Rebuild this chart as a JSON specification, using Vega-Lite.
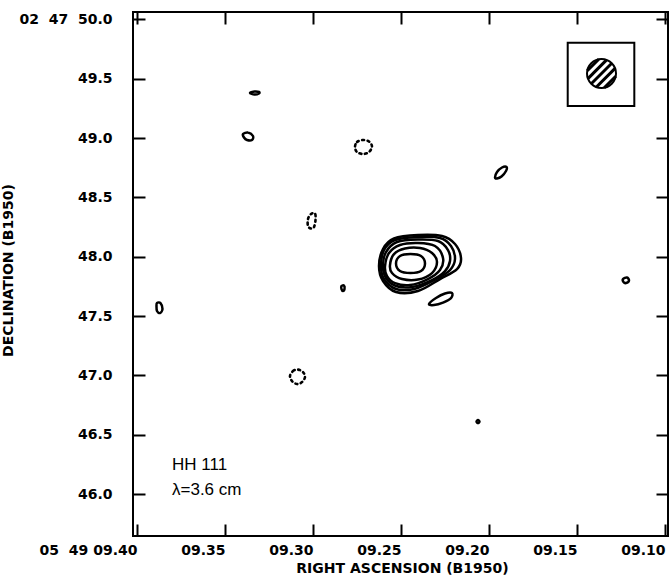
{
  "$schema": "https://vega.github.io/schema/vega-lite/v6.json",
  "width": 535,
  "height": 524,
  "autosize": {"type": "none"},
  "padding": {"left": 133, "top": 12, "right": 2, "bottom": 45},
  "background": "white",
  "config": {
    "view": {"stroke": "black", "strokeWidth": 2},
    "axis": {"tickColor": "black", "domainColor": "black", "labelColor": "black", "titleColor": "black", "grid": false, "domain": false}
  },
  "datasets": {
    "pos": [
      {"c":"m1","i":0,"ra":9.25284,"dec":47.94267},{"c":"m1","i":1,"ra":9.25057,"dec":48.0059},{"c":"m1","i":2,"ra":9.2446,"dec":48.02277},{"c":"m1","i":3,"ra":9.23864,"dec":48.0059},{"c":"m1","i":4,"ra":9.23636,"dec":47.94267},{"c":"m1","i":5,"ra":9.23864,"dec":47.87943},{"c":"m1","i":6,"ra":9.2446,"dec":47.86256},{"c":"m1","i":7,"ra":9.25057,"dec":47.87943},
      {"c":"m2","i":0,"ra":9.25625,"dec":47.93002},{"c":"m2","i":1,"ra":9.25398,"dec":48.02277},{"c":"m2","i":2,"ra":9.24773,"dec":48.06914},{"c":"m2","i":3,"ra":9.2392,"dec":48.07336},{"c":"m2","i":4,"ra":9.23239,"dec":48.0312},{"c":"m2","i":5,"ra":9.22955,"dec":47.95531},{"c":"m2","i":6,"ra":9.23239,"dec":47.86256},{"c":"m2","i":7,"ra":9.24034,"dec":47.80776},{"c":"m2","i":8,"ra":9.24943,"dec":47.81197},{"c":"m2","i":9,"ra":9.25511,"dec":47.86256},
      {"c":"m3","i":0,"ra":9.25909,"dec":47.92159},{"c":"m3","i":1,"ra":9.25682,"dec":48.0312},{"c":"m3","i":2,"ra":9.25057,"dec":48.09865},{"c":"m3","i":3,"ra":9.24034,"dec":48.11552},{"c":"m3","i":4,"ra":9.23068,"dec":48.09022},{"c":"m3","i":5,"ra":9.22614,"dec":47.98904},{"c":"m3","i":6,"ra":9.22784,"dec":47.88786},{"c":"m3","i":7,"ra":9.23466,"dec":47.81197},{"c":"m3","i":8,"ra":9.24489,"dec":47.76138},{"c":"m3","i":9,"ra":9.25341,"dec":47.77825},{"c":"m3","i":10,"ra":9.25795,"dec":47.83727},
      {"c":"m4","i":0,"ra":9.26023,"dec":47.92159},{"c":"m4","i":1,"ra":9.25852,"dec":48.03963},{"c":"m4","i":2,"ra":9.25227,"dec":48.12395},{"c":"m4","i":3,"ra":9.24034,"dec":48.14503},{"c":"m4","i":4,"ra":9.22898,"dec":48.13238},{"c":"m4","i":5,"ra":9.2233,"dec":48.05649},{"c":"m4","i":6,"ra":9.22216,"dec":47.96374},{"c":"m4","i":7,"ra":9.225,"dec":47.87943},{"c":"m4","i":8,"ra":9.23239,"dec":47.80354},{"c":"m4","i":9,"ra":9.24375,"dec":47.74452},{"c":"m4","i":10,"ra":9.25284,"dec":47.75295},{"c":"m4","i":11,"ra":9.25852,"dec":47.82041},
      {"c":"m5","i":0,"ra":9.26136,"dec":47.92159},{"c":"m5","i":1,"ra":9.25966,"dec":48.05649},{"c":"m5","i":2,"ra":9.25341,"dec":48.14081},{"c":"m5","i":3,"ra":9.24034,"dec":48.16611},{"c":"m5","i":4,"ra":9.22784,"dec":48.15767},{"c":"m5","i":5,"ra":9.22159,"dec":48.09022},{"c":"m5","i":6,"ra":9.21932,"dec":47.98061},{"c":"m5","i":7,"ra":9.22216,"dec":47.88786},{"c":"m5","i":8,"ra":9.23011,"dec":47.81197},{"c":"m5","i":9,"ra":9.24261,"dec":47.72766},{"c":"m5","i":10,"ra":9.25284,"dec":47.72766},{"c":"m5","i":11,"ra":9.25966,"dec":47.81197},
      {"c":"m6","i":0,"ra":9.2625,"dec":47.92159},{"c":"m6","i":1,"ra":9.26023,"dec":48.06492},{"c":"m6","i":2,"ra":9.25398,"dec":48.15346},{"c":"m6","i":3,"ra":9.24034,"dec":48.18297},{"c":"m6","i":4,"ra":9.2267,"dec":48.17454},{"c":"m6","i":5,"ra":9.21932,"dec":48.10708},{"c":"m6","i":6,"ra":9.21591,"dec":47.98904},{"c":"m6","i":7,"ra":9.21818,"dec":47.89629},{"c":"m6","i":8,"ra":9.22784,"dec":47.81197},{"c":"m6","i":9,"ra":9.24034,"dec":47.71079},{"c":"m6","i":10,"ra":9.25284,"dec":47.70236},{"c":"m6","i":11,"ra":9.26023,"dec":47.79511},
      {"c":"s1","i":0,"ra":9.23409,"dec":47.60118},{"c":"s1","i":1,"ra":9.23011,"dec":47.65177},{"c":"s1","i":2,"ra":9.225,"dec":47.68971},{"c":"s1","i":3,"ra":9.22102,"dec":47.69393},{"c":"s1","i":4,"ra":9.22159,"dec":47.65177},{"c":"s1","i":5,"ra":9.22614,"dec":47.61383},{"c":"s1","i":6,"ra":9.23125,"dec":47.59275},
      {"c":"s2","i":0,"ra":9.19659,"dec":48.66779},{"c":"s2","i":1,"ra":9.19545,"dec":48.71417},{"c":"s2","i":2,"ra":9.19261,"dec":48.75211},{"c":"s2","i":3,"ra":9.19006,"dec":48.75632},{"c":"s2","i":4,"ra":9.19034,"dec":48.7226},{"c":"s2","i":5,"ra":9.1929,"dec":48.67622},{"c":"s2","i":6,"ra":9.19545,"dec":48.65936},
      {"c":"s3","i":0,"ra":9.12386,"dec":47.81197},{"c":"s3","i":1,"ra":9.12159,"dec":47.82462},{"c":"s3","i":2,"ra":9.12045,"dec":47.79933},{"c":"s3","i":3,"ra":9.12216,"dec":47.77825},{"c":"s3","i":4,"ra":9.12358,"dec":47.78668},
      {"c":"s4","i":0,"ra":9.2071,"dec":46.61046},{"c":"s4","i":1,"ra":9.20625,"dec":46.6231},{"c":"s4","i":2,"ra":9.2054,"dec":46.61046},{"c":"s4","i":3,"ra":9.20625,"dec":46.59781},
      {"c":"s5","i":0,"ra":9.3358,"dec":49.38027},{"c":"s5","i":1,"ra":9.33324,"dec":49.39292},{"c":"s5","i":2,"ra":9.33068,"dec":49.3887},{"c":"s5","i":3,"ra":9.33068,"dec":49.37605},{"c":"s5","i":4,"ra":9.33324,"dec":49.36762},
      {"c":"s6","i":0,"ra":9.33977,"dec":49.03457},{"c":"s6","i":1,"ra":9.33693,"dec":49.04722},{"c":"s6","i":2,"ra":9.33409,"dec":49.01771},{"c":"s6","i":3,"ra":9.33466,"dec":48.98398},{"c":"s6","i":4,"ra":9.3375,"dec":48.98398},{"c":"s6","i":5,"ra":9.3392,"dec":49.00506},
      {"c":"s7","i":0,"ra":9.38864,"dec":47.60961},{"c":"s7","i":1,"ra":9.38665,"dec":47.60961},{"c":"s7","i":2,"ra":9.38551,"dec":47.55902},{"c":"s7","i":3,"ra":9.38693,"dec":47.5253},{"c":"s7","i":4,"ra":9.38864,"dec":47.54216},{"c":"s7","i":5,"ra":9.38892,"dec":47.58432},
      {"c":"s8","i":0,"ra":9.28381,"dec":47.75295},{"c":"s8","i":1,"ra":9.28239,"dec":47.75717},{"c":"s8","i":2,"ra":9.2821,"dec":47.72766},{"c":"s8","i":3,"ra":9.28295,"dec":47.71079},{"c":"s8","i":4,"ra":9.28381,"dec":47.72766}
    ],
    "neg": [
      {"c":"n1","i":0,"ra":9.27614,"dec":48.92496},{"c":"n1","i":1,"ra":9.275,"dec":48.96712},{"c":"n1","i":2,"ra":9.27159,"dec":48.98398},{"c":"n1","i":3,"ra":9.26818,"dec":48.97133},{"c":"n1","i":4,"ra":9.26648,"dec":48.92917},{"c":"n1","i":5,"ra":9.26818,"dec":48.8828},{"c":"n1","i":6,"ra":9.27159,"dec":48.86594},{"c":"n1","i":7,"ra":9.275,"dec":48.8828},
      {"c":"n2","i":0,"ra":9.30284,"dec":48.25885},{"c":"n2","i":1,"ra":9.30284,"dec":48.31788},{"c":"n2","i":2,"ra":9.30114,"dec":48.36003},{"c":"n2","i":3,"ra":9.29886,"dec":48.36425},{"c":"n2","i":4,"ra":9.29858,"dec":48.30944},{"c":"n2","i":5,"ra":9.29943,"dec":48.25042},{"c":"n2","i":6,"ra":9.30114,"dec":48.23777},
      {"c":"n3","i":0,"ra":9.31307,"dec":46.9941},{"c":"n3","i":1,"ra":9.31136,"dec":47.03626},{"c":"n3","i":2,"ra":9.30852,"dec":47.0489},{"c":"n3","i":3,"ra":9.30568,"dec":47.02783},{"c":"n3","i":4,"ra":9.30455,"dec":46.98567},{"c":"n3","i":5,"ra":9.30625,"dec":46.94351},{"c":"n3","i":6,"ra":9.30909,"dec":46.92665},{"c":"n3","i":7,"ra":9.31193,"dec":46.95194}
    ],
    "box": [{"ra":9.15528,"ra2":9.11744,"dec":49.80438,"dec2":49.27066}],
    "beam": [{"ra":9.13608,"dec":49.54469}],
    "hatch": [
      {"ra":9.13026,"dec":49.63111,"ra2":9.1419,"dec2":49.45826},
      {"ra":9.12837,"dec":49.5876,"ra2":9.13897,"dec2":49.43027},
      {"ra":9.13319,"dec":49.65911,"ra2":9.14379,"dec2":49.50177},
      {"ra":9.12798,"dec":49.52167,"ra2":9.13453,"dec2":49.42454},
      {"ra":9.13763,"dec":49.66484,"ra2":9.14418,"dec2":49.56771}
    ],
    "notes": [
      {"ra":9.38011,"dec":46.24368,"text":"HH 111"},
      {"ra":9.38011,"dec":46.03288,"text":"λ=3.6 cm"}
    ]
  },
  "layer": [
    {
      "data": {"name": "pos"},
      "mark": {"type": "line", "interpolate": "cardinal-closed", "stroke": "black", "strokeWidth": 2.5},
      "encoding": {
        "x": {"field": "ra", "type": "quantitative", "scale": {"domain": [9.40227, 9.0983], "nice": false, "zero": false},
          "axis": {"orient": "bottom", "values": [9.4, 9.35, 9.3, 9.25, 9.2, 9.15, 9.1],
            "labelExpr": "datum.value > 9.39 ? '05\u00a0 49 09.40' : '0' + format(datum.value, '.2f')",
            "tickSize": -12, "tickWidth": 2, "labelFont": "DejaVu Sans", "labelFontWeight": "bold", "labelFontSize": 14,
            "labelAlign": "right", "labelBaseline": "middle", "labelPadding": 26, "labelFlush": false, "labelOverlap": false,
            "title": "RIGHT ASCENSION (B1950)", "titleFont": "DejaVu Sans", "titleFontSize": 14, "titleFontWeight": "bold",
            "titleX": 269, "titleY": 32, "titleBaseline": "middle", "titleAlign": "center"}},
        "y": {"field": "dec", "type": "quantitative", "scale": {"domain": [45.646, 50.063], "nice": false, "zero": false},
          "axis": {"orient": "left", "values": [46, 46.5, 47, 47.5, 48, 48.5, 49, 49.5, 50],
            "labelExpr": "datum.value > 49.9 ? '02\u00a0 47\u00a0 50.0' : format(datum.value, '.1f')",
            "tickSize": -12, "tickWidth": 2, "labelFont": "DejaVu Sans", "labelFontWeight": "bold", "labelFontSize": 14,
            "labelAlign": "right", "labelBaseline": "middle", "labelPadding": 33, "labelFlush": false, "labelOverlap": false,
            "title": "DECLINATION (B1950)", "titleFont": "DejaVu Sans", "titleFontSize": 14, "titleFontWeight": "bold",
            "titleX": -125, "titleY": 258, "titleAngle": 270, "titleBaseline": "middle", "titleAlign": "center"}},
        "detail": {"field": "c", "type": "nominal"},
        "order": {"field": "i", "type": "quantitative"}
      }
    },
    {
      "data": {"name": "neg"},
      "mark": {"type": "line", "interpolate": "cardinal-closed", "stroke": "black", "strokeWidth": 2.6, "strokeDash": [2, 3.5], "strokeCap": "round"},
      "encoding": {
        "x": {"field": "ra", "type": "quantitative", "scale": {"domain": [9.40227, 9.0983], "nice": false, "zero": false}, "axis": null},
        "y": {"field": "dec", "type": "quantitative", "scale": {"domain": [45.646, 50.063], "nice": false, "zero": false}, "axis": null},
        "detail": {"field": "c", "type": "nominal"},
        "order": {"field": "i", "type": "quantitative"}
      }
    },
    {
      "data": {"name": "box"},
      "mark": {"type": "rect", "fill": "transparent", "stroke": "black", "strokeWidth": 2},
      "encoding": {
        "x": {"field": "ra", "type": "quantitative", "scale": {"domain": [9.40227, 9.0983], "nice": false, "zero": false},
          "axis": {"orient": "top", "values": [9.4, 9.35, 9.3, 9.25, 9.2, 9.15, 9.1], "labels": false, "tickSize": -12, "tickWidth": 2, "title": null}},
        "x2": {"field": "ra2"},
        "y": {"field": "dec", "type": "quantitative", "scale": {"domain": [45.646, 50.063], "nice": false, "zero": false},
          "axis": {"orient": "right", "values": [46, 46.5, 47, 47.5, 48, 48.5, 49, 49.5, 50], "labels": false, "tickSize": -12, "tickWidth": 2, "title": null}},
        "y2": {"field": "dec2"}
      }
    },
    {
      "data": {"name": "beam"},
      "mark": {"type": "point", "shape": "circle", "size": 841, "filled": true, "fill": "white", "stroke": "black", "strokeWidth": 2, "opacity": 1},
      "encoding": {
        "x": {"field": "ra", "type": "quantitative", "scale": {"domain": [9.40227, 9.0983], "nice": false, "zero": false}, "axis": null},
        "y": {"field": "dec", "type": "quantitative", "scale": {"domain": [45.646, 50.063], "nice": false, "zero": false}, "axis": null}
      }
    },
    {
      "data": {"name": "hatch"},
      "mark": {"type": "rule", "stroke": "black", "strokeWidth": 3},
      "encoding": {
        "x": {"field": "ra", "type": "quantitative", "scale": {"domain": [9.40227, 9.0983], "nice": false, "zero": false}, "axis": null},
        "y": {"field": "dec", "type": "quantitative", "scale": {"domain": [45.646, 50.063], "nice": false, "zero": false}, "axis": null},
        "x2": {"field": "ra2"},
        "y2": {"field": "dec2"}
      }
    },
    {
      "data": {"name": "notes"},
      "mark": {"type": "text", "align": "left", "baseline": "middle", "font": "Liberation Sans", "fontSize": 17, "color": "black"},
      "encoding": {
        "x": {"field": "ra", "type": "quantitative", "scale": {"domain": [9.40227, 9.0983], "nice": false, "zero": false}, "axis": null},
        "y": {"field": "dec", "type": "quantitative", "scale": {"domain": [45.646, 50.063], "nice": false, "zero": false}, "axis": null},
        "text": {"field": "text", "type": "nominal"}
      }
    }
  ],
  "resolve": {"axis": {"x": "independent", "y": "independent"}}
}
